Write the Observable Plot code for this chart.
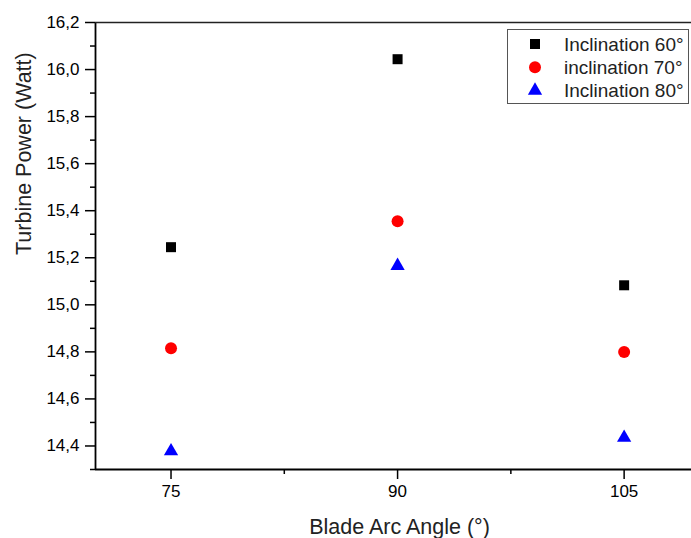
<!DOCTYPE html>
<html>
<head>
<meta charset="utf-8">
<script src="https://cdn.jsdelivr.net/npm/d3@7"></script>
<script src="https://cdn.jsdelivr.net/npm/@observablehq/plot@0.6"></script>
<style>
  html, body { margin: 0; padding: 0; background: #fff; overflow: hidden; }
  svg { display: block; }
</style>
</head>
<body>
<div id="chart"></div>
<script>
const angles = [75, 90, 105];
const seriesNames = ["Inclination 60°", "inclination 70°", "Inclination 80°"];
const power60 = [15.245, 16.044, 15.083];
const power70 = [14.815, 15.355, 14.799];
const power80 = [14.378, 15.166, 14.435];
const seriesColors = ["#000000", "#ff0000", "#0000ff"];
const seriesSymbols = ["square", "circle", "triangle"];
const xTicks = [75, 90, 105];
const xMinorTicks = [82.5, 97.5];
const yTicks = [14.4, 14.6, 14.8, 15.0, 15.2, 15.4, 15.6, 15.8, 16.0, 16.2];
const yMinorTicks = [14.3, 14.5, 14.7, 14.9, 15.1, 15.3, 15.5, 15.7, 15.9, 16.1];
const xLabel = "Blade Arc Angle (°)";
const yLabel = "Turbine Power (Watt)";

const allSeries = [power60, power70, power80];
const data = allSeries.map((vals, i) => angles.map((a, j) => ({angle: a, power: vals[j], series: seriesNames[i]})));

const fmt = d => d.toFixed(1).replace(".", ",");
const rs = [5.64, 6, 5.3];

const chart = Plot.plot({
  width: 691,
  height: 538,
  marginLeft: 95,
  marginRight: 0,
  marginTop: 22,
  marginBottom: 69,
  style: {fontFamily: "'Liberation Sans', Arial, sans-serif", color: "#000", background: "#fff"},
  x: {domain: [70, 109.46]},
  y: {domain: [14.3, 16.2]},
  marks: [
    Plot.axisX({ticks: xTicks, tickSize: 10, tickPadding: 5, fontSize: 17, label: null, strokeWidth: 1.5, tickFormat: d => String(d)}),
    Plot.axisX({ticks: xMinorTicks, tickSize: 5, text: null, label: null, strokeWidth: 1.5}),
    Plot.axisY({ticks: yTicks, tickSize: 10, tickPadding: 6, fontSize: 17, label: null, strokeWidth: 1.5, tickFormat: fmt}),
    Plot.axisY({ticks: yMinorTicks, tickSize: 5, text: null, label: null, strokeWidth: 1.5}),
    Plot.ruleX([70], {stroke: "#000", strokeWidth: 1.8}),
    Plot.ruleY([14.3], {stroke: "#000", strokeWidth: 1.8}),
    Plot.ruleY([16.2], {stroke: "#222", strokeWidth: 1.5}),
    ...data.map((d, i) => Plot.dot(d, {x: "angle", y: "power", symbol: seriesSymbols[i], r: rs[i], fill: seriesColors[i], stroke: "none"})),
    Plot.text([xLabel], {frameAnchor: "bottom", dx: 6, dy: 64, fontSize: 21.5, fill: "#222"}),
    Plot.text([yLabel], {frameAnchor: "left", rotate: -90, dx: -71, dy: 9, fontSize: 21.5, fill: "#222"})
  ]
});

document.getElementById("chart").appendChild(chart);

// Legend inside the plot area
const svg = d3.select(chart);
const lg = svg.append("g").attr("class", "legend").attr("text-anchor", "start");
lg.append("rect")
  .attr("x", 507.5).attr("y", 29.5).attr("width", 181).attr("height", 74)
  .attr("fill", "#fff").attr("stroke", "#555").attr("stroke-width", 1);
const symMap = {square: d3.symbolSquare, circle: d3.symbolCircle, triangle: d3.symbolTriangle};
seriesNames.forEach((name, i) => {
  const cy = 44 + i * 23.3;
  lg.append("path")
    .attr("transform", `translate(535,${cy})`)
    .attr("d", d3.symbol(symMap[seriesSymbols[i]], Math.PI * rs[i] * rs[i])())
    .attr("fill", seriesColors[i]);
  lg.append("text")
    .attr("x", 564).attr("y", cy).attr("dy", "0.35em")
    .attr("text-anchor", "start")
    .attr("font-size", 19).attr("fill", "#222")
    .attr("font-family", "'Liberation Sans', Arial, sans-serif")
    .text(name);
});
</script>
</body>
</html>
